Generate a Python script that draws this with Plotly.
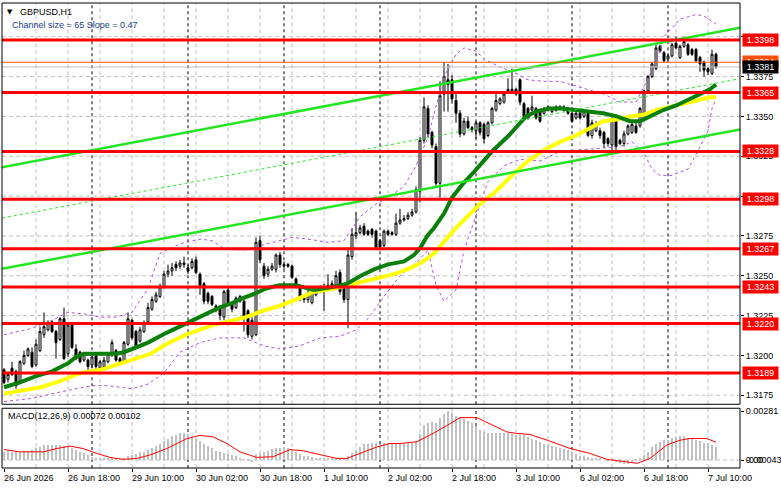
import plotly.graph_objects as go

# ---------------- data ----------------
opens = [
    1.3191, 1.3185, 1.3192, 1.3190, 1.3184, 1.3195, 1.3200, 1.3202, 1.3194, 1.3203,
    1.3213, 1.3216, 1.3221, 1.3215, 1.3210, 1.3223, 1.3201, 1.3219, 1.3204, 1.3202,
    1.3197, 1.3197, 1.3194, 1.3200, 1.3192, 1.3193, 1.3196, 1.3201, 1.3203, 1.3198,
    1.3196, 1.3207, 1.3222, 1.3215, 1.3209, 1.3215, 1.3221, 1.3229, 1.3234, 1.3237,
    1.3243, 1.3251, 1.3253, 1.3257, 1.3256, 1.3257, 1.3255, 1.3255, 1.3260, 1.3251,
    1.3245, 1.3239, 1.3237, 1.3231, 1.3229, 1.3224, 1.3241, 1.3233, 1.3230, 1.3234,
    1.3234, 1.3228, 1.3212, 1.3213, 1.3272, 1.3256, 1.3251, 1.3254, 1.3254, 1.3263,
    1.3256, 1.3257, 1.3256, 1.3248, 1.3243, 1.3236, 1.3235, 1.3233, 1.3238, 1.3242,
    1.3240, 1.3242, 1.3244, 1.3244, 1.3252, 1.3242, 1.3235, 1.3262, 1.3275, 1.3277,
    1.3281, 1.3278, 1.3279, 1.3278, 1.3272, 1.3269, 1.3278, 1.3277, 1.3276, 1.3283,
    1.3285, 1.3286, 1.3288, 1.3290, 1.3303, 1.3335, 1.3355, 1.3340, 1.3331, 1.3308,
    1.3364, 1.3373, 1.3373, 1.3360, 1.3352, 1.3339, 1.3347, 1.3343, 1.3341, 1.3346,
    1.3345, 1.3338, 1.3346, 1.3354, 1.3358, 1.3359, 1.3365, 1.3366, 1.3367, 1.3373,
    1.3358, 1.3355, 1.3354, 1.3355, 1.3354, 1.3352, 1.3356, 1.3353, 1.3354, 1.3356,
    1.3354, 1.3355, 1.3352, 1.3349, 1.3352, 1.3350, 1.3352, 1.3338, 1.3341, 1.3341,
    1.3340, 1.3336, 1.3332, 1.3349, 1.3335, 1.3333, 1.3339, 1.3340, 1.3344, 1.3344,
    1.3348, 1.3366, 1.3375, 1.3380, 1.3394, 1.3390, 1.3386, 1.3388, 1.3396, 1.3387,
    1.3394, 1.3395, 1.3392, 1.3392, 1.3387, 1.3384, 1.3380, 1.3377, 1.3389,
]
highs = [
    1.3192, 1.3189, 1.3196, 1.3191, 1.3197, 1.3203, 1.3205, 1.3205, 1.3210, 1.3218,
    1.3227, 1.3222, 1.3222, 1.3216, 1.3224, 1.3230, 1.3220, 1.3220, 1.3207, 1.3203,
    1.3202, 1.3198, 1.3200, 1.3201, 1.3197, 1.3199, 1.3202, 1.3210, 1.3204, 1.3199,
    1.3209, 1.3227, 1.3223, 1.3216, 1.3218, 1.3222, 1.3233, 1.3237, 1.3240, 1.3245,
    1.3253, 1.3257, 1.3258, 1.3259, 1.3260, 1.3262, 1.3257, 1.3261, 1.3262, 1.3252,
    1.3246, 1.3240, 1.3238, 1.3232, 1.3230, 1.3241, 1.3243, 1.3234, 1.3237, 1.3238,
    1.3235, 1.3229, 1.3224, 1.3274, 1.3275, 1.3258, 1.3256, 1.3258, 1.3264, 1.3265,
    1.3259, 1.3258, 1.3257, 1.3249, 1.3244, 1.3237, 1.3241, 1.3241, 1.3243, 1.3244,
    1.3245, 1.3251, 1.3247, 1.3253, 1.3254, 1.3243, 1.3266, 1.3280, 1.3290, 1.3282,
    1.3283, 1.3279, 1.3280, 1.3279, 1.3273, 1.3279, 1.3279, 1.3278, 1.3289, 1.3292,
    1.3288, 1.3290, 1.3292, 1.3306, 1.3337, 1.3362, 1.3357, 1.3341, 1.3333, 1.3372,
    1.3384, 1.3383, 1.3376, 1.3365, 1.3354, 1.3349, 1.3350, 1.3344, 1.3347, 1.3347,
    1.3346, 1.3347, 1.3356, 1.3365, 1.3362, 1.3365, 1.3374, 1.3380, 1.3368, 1.3374,
    1.3359, 1.3356, 1.3363, 1.3356, 1.3355, 1.3356, 1.3357, 1.3356, 1.3357, 1.3357,
    1.3357, 1.3356, 1.3353, 1.3353, 1.3353, 1.3354, 1.3353, 1.3348, 1.3347, 1.3343,
    1.3341, 1.3337, 1.3350, 1.3350, 1.3336, 1.3341, 1.3345, 1.3346, 1.3346, 1.3356,
    1.3367, 1.3376, 1.3384, 1.3395, 1.3395, 1.3391, 1.3389, 1.3396, 1.3400, 1.3395,
    1.3400, 1.3396, 1.3393, 1.3393, 1.3388, 1.3385, 1.3381, 1.3392, 1.3390,
]
lows = [
    1.3182, 1.3183, 1.3187, 1.3179, 1.3183, 1.3194, 1.3199, 1.3192, 1.3193, 1.3202,
    1.3211, 1.3215, 1.3214, 1.3198, 1.3209, 1.3197, 1.3199, 1.3204, 1.3197, 1.3195,
    1.3196, 1.3189, 1.3192, 1.3189, 1.3190, 1.3192, 1.3195, 1.3199, 1.3196, 1.3194,
    1.3195, 1.3206, 1.3210, 1.3204, 1.3208, 1.3214, 1.3220, 1.3228, 1.3233, 1.3236,
    1.3242, 1.3249, 1.3250, 1.3253, 1.3254, 1.3255, 1.3251, 1.3254, 1.3251, 1.3238,
    1.3232, 1.3232, 1.3231, 1.3227, 1.3222, 1.3222, 1.3231, 1.3227, 1.3229, 1.3233,
    1.3215, 1.3211, 1.3210, 1.3212, 1.3258, 1.3248, 1.3249, 1.3253, 1.3252, 1.3255,
    1.3254, 1.3255, 1.3248, 1.3242, 1.3234, 1.3233, 1.3233, 1.3232, 1.3237, 1.3239,
    1.3228, 1.3241, 1.3243, 1.3243, 1.3238, 1.3233, 1.3217, 1.3260, 1.3273, 1.3276,
    1.3275, 1.3275, 1.3274, 1.3266, 1.3266, 1.3268, 1.3275, 1.3275, 1.3275, 1.3282,
    1.3284, 1.3285, 1.3287, 1.3289, 1.3296, 1.3333, 1.3337, 1.3330, 1.3306, 1.3299,
    1.3353, 1.3353, 1.3358, 1.3346, 1.3337, 1.3338, 1.3342, 1.3340, 1.3336, 1.3338,
    1.3333, 1.3337, 1.3345, 1.3353, 1.3357, 1.3358, 1.3364, 1.3365, 1.3363, 1.3357,
    1.3349, 1.3348, 1.3353, 1.3348, 1.3346, 1.3351, 1.3353, 1.3352, 1.3353, 1.3354,
    1.3353, 1.3351, 1.3346, 1.3348, 1.3348, 1.3349, 1.3337, 1.3336, 1.3340, 1.3336,
    1.3330, 1.3331, 1.3327, 1.3329, 1.3332, 1.3331, 1.3338, 1.3339, 1.3339, 1.3343,
    1.3347, 1.3365, 1.3374, 1.3379, 1.3390, 1.3384, 1.3385, 1.3387, 1.3392, 1.3386,
    1.3393, 1.3388, 1.3388, 1.3384, 1.3378, 1.3375, 1.3376, 1.3376, 1.3380,
]
closes = [
    1.3183, 1.3188, 1.3188, 1.3181, 1.3196, 1.3200, 1.3204, 1.3193, 1.3207, 1.3215,
    1.3218, 1.3220, 1.3215, 1.3208, 1.3223, 1.3198, 1.3219, 1.3205, 1.3198, 1.3196,
    1.3201, 1.3193, 1.3199, 1.3193, 1.3196, 1.3197, 1.3201, 1.3208, 1.3197, 1.3195,
    1.3208, 1.3223, 1.3211, 1.3205, 1.3216, 1.3220, 1.3230, 1.3235, 1.3238, 1.3243,
    1.3251, 1.3253, 1.3255, 1.3255, 1.3258, 1.3258, 1.3253, 1.3259, 1.3252, 1.3244,
    1.3234, 1.3234, 1.3232, 1.3229, 1.3225, 1.3240, 1.3233, 1.3229, 1.3236, 1.3237,
    1.3225, 1.3213, 1.3222, 1.3271, 1.3260, 1.3250, 1.3254, 1.3256, 1.3263, 1.3257,
    1.3257, 1.3256, 1.3249, 1.3243, 1.3236, 1.3235, 1.3239, 1.3240, 1.3241, 1.3240,
    1.3243, 1.3244, 1.3245, 1.3250, 1.3240, 1.3235, 1.3263, 1.3276, 1.3277, 1.3280,
    1.3276, 1.3276, 1.3276, 1.3268, 1.3268, 1.3278, 1.3276, 1.3276, 1.3283, 1.3285,
    1.3286, 1.3288, 1.3290, 1.3304, 1.3335, 1.3356, 1.3339, 1.3332, 1.3308, 1.3363,
    1.3375, 1.3370, 1.3361, 1.3352, 1.3339, 1.3347, 1.3343, 1.3342, 1.3346, 1.3340,
    1.3336, 1.3346, 1.3355, 1.3360, 1.3361, 1.3364, 1.3367, 1.3367, 1.3364, 1.3359,
    1.3350, 1.3349, 1.3356, 1.3349, 1.3347, 1.3355, 1.3354, 1.3355, 1.3356, 1.3355,
    1.3356, 1.3352, 1.3347, 1.3352, 1.3349, 1.3353, 1.3338, 1.3346, 1.3345, 1.3338,
    1.3333, 1.3333, 1.3348, 1.3331, 1.3333, 1.3339, 1.3344, 1.3345, 1.3340, 1.3355,
    1.3366, 1.3375, 1.3383, 1.3393, 1.3391, 1.3385, 1.3388, 1.3395, 1.3393, 1.3394,
    1.3397, 1.3389, 1.3389, 1.3385, 1.3383, 1.3379, 1.3378, 1.3389, 1.3381,
]
bar_index = list(range(len(closes)))

# moving averages (bar index, price)
ma_green_x = [0, 4, 8, 12, 16, 18, 20, 24, 28, 30, 32, 36, 40.5, 45.5, 50.5, 53.8, 57.2, 59.7,
              63, 65.5, 68.8, 73, 77.5, 82.5, 85.8, 89.2, 92.5, 95.8, 100, 102.5, 104.2, 105.8,
              107.5, 110, 112, 114.5, 117.8, 122, 126.2, 130.5, 133, 136.2, 139.5, 142.8, 146.5,
              149.8, 153.2, 156.5, 159, 161.5, 164.8, 168.2, 171.5, 174, 176.5, 178]
ma_green_y = [1.3180, 1.3183, 1.3187, 1.3190, 1.3195, 1.3199, 1.3201, 1.3201, 1.3201, 1.3202,
              1.3204, 1.3208, 1.3214, 1.3220, 1.3226, 1.3230, 1.3233, 1.3236, 1.3239, 1.3242,
              1.3244, 1.3244, 1.3241, 1.3243, 1.3245, 1.3250, 1.3254, 1.3257, 1.3259, 1.3263,
              1.3268, 1.3275, 1.3280, 1.3289, 1.3299, 1.3307, 1.3316, 1.3328, 1.3338, 1.3350,
              1.3353, 1.3355, 1.3355, 1.3354, 1.3353, 1.3352, 1.3350, 1.3347, 1.3347, 1.3350,
              1.3354, 1.3357, 1.3361, 1.3364, 1.3367, 1.3370]
ma_yellow_x = [0, 4.2, 9.2, 14.2, 19.2, 24.2, 29.2, 34.2, 36.7, 40.5, 45.5, 52.2, 57.2, 60.5,
               64.7, 68.8, 73, 77.5, 82.5, 85.8, 89.2, 94.2, 97.5, 100.8, 104.2, 107.5, 110,
               113, 119, 123, 127, 131, 135, 139, 143, 147, 149.8, 153.2, 156.5, 159.8, 163.2,
               166.5, 169.8, 173.2, 176.5, 178]
ma_yellow_y = [1.3176, 1.3178, 1.3180, 1.3184, 1.3189, 1.3191, 1.3195, 1.3199, 1.3201, 1.3207,
               1.3213, 1.3219, 1.3222, 1.3224, 1.3228, 1.3231, 1.3235, 1.3240, 1.3242, 1.3244,
               1.3246, 1.3249, 1.3251, 1.3254, 1.3258, 1.3264, 1.3271, 1.3280, 1.3295, 1.3303,
               1.3313, 1.3322, 1.3329, 1.3334, 1.3338, 1.3343, 1.3347, 1.3348, 1.3350, 1.3351,
               1.3354, 1.3356, 1.3358, 1.3360, 1.3362, 1.3362]

# envelope bands (purple dashed)
band_up_x = [0, 7, 12, 16, 20, 24, 28, 32, 36, 39, 44, 49, 52, 55, 60, 64, 69, 72, 76, 81, 85,
             89, 93, 96, 100, 103, 106, 108, 110, 113, 115, 118, 120, 124, 128, 131, 135, 139,
             143, 146, 150, 154, 158, 160, 163, 165, 169, 173, 175, 178]
band_up_y = [1.3213, 1.3217, 1.3222, 1.3227, 1.3226, 1.3224, 1.3224, 1.3227, 1.3242, 1.3264,
             1.3270, 1.3273, 1.3272, 1.3267, 1.3266, 1.3269, 1.3272, 1.3274, 1.3273, 1.3271,
             1.3272, 1.3287, 1.3295, 1.3299, 1.3306, 1.3319, 1.3337, 1.3356, 1.3375, 1.3389,
             1.3393, 1.3391, 1.3386, 1.3381, 1.3377, 1.3373, 1.3372, 1.3372, 1.3369, 1.3367,
             1.3364, 1.3359, 1.3359, 1.3369, 1.3384, 1.3400, 1.3411, 1.3414, 1.3413, 1.3408]
band_lo_x = [0, 7, 14, 22, 26, 32, 36, 40, 44, 49, 54, 60, 65, 69, 74, 79, 84, 88, 91, 95, 99,
             103, 106, 108, 110, 113, 115, 118, 121, 125, 129, 134, 139, 144, 149, 154, 157,
             160, 162, 164, 167, 171, 173, 176, 177, 178]
band_lo_y = [1.3171, 1.3173, 1.3177, 1.3181, 1.3181, 1.3179, 1.3182, 1.3189, 1.3202, 1.3208,
             1.3211, 1.3211, 1.3206, 1.3204, 1.3206, 1.3211, 1.3212, 1.3216, 1.3223, 1.3237,
             1.3250, 1.3258, 1.3266, 1.3244, 1.3234, 1.3241, 1.3266, 1.3287, 1.3309, 1.3319,
             1.3323, 1.3322, 1.3328, 1.3329, 1.3330, 1.3331, 1.3334, 1.3327, 1.3317, 1.3313,
             1.3313, 1.3317, 1.3326, 1.3341, 1.3355, 1.3361]

# regression channel (start / end of the chart)
channel_x = [-0.5, 184]
channel_upper = [1.33181, 1.34056]
channel_mid = [1.32862, 1.33737]
channel_lower = [1.32543, 1.33418]

levels = [1.3398, 1.3365, 1.3328, 1.3298, 1.3267, 1.3243, 1.3220, 1.3189]
bid_price = 1.3381
ask_price = 1.3384

macd_hist = [
    0.00047, 0.00048, 0.00047, 0.00048, 0.00047, 0.00049, 0.00052, 0.00055, 0.00065, 0.00075,
    0.00084, 0.00086, 0.00086, 0.00084, 0.00086, 0.00080, 0.00075, 0.00065, 0.00056, 0.00047,
    0.00037, 0.00028, 0.00014, 0.00009, 0.00006, 0.00005, 0.00005, 0.00006, 0.00005, 0.00004,
    0.00007, 0.00019, 0.00028, 0.00033, 0.00042, 0.00047, 0.00056, 0.00065, 0.00079, 0.00093,
    0.00107, 0.00121, 0.00135, 0.00144, 0.00154, 0.00156, 0.00149, 0.00135, 0.00121, 0.00107,
    0.00093, 0.00079, 0.00065, 0.00051, 0.00042, 0.00037, 0.00033, 0.00028, 0.00019, 0.00009,
    0.00002, -0.00005, -0.00014, 0.00033, 0.00037, 0.00047, 0.00051, 0.00060, 0.00065, 0.00070,
    0.00074, 0.00070, 0.00056, 0.00042, 0.00033, 0.00023, 0.00019, 0.00014, 0.00009, 0.00007,
    0.00007, 0.00007, 0.00009, 0.00011, 0.00009, 0.00007, 0.00023, 0.00037, 0.00056, 0.00074,
    0.00088, 0.00093, 0.00098, 0.00098, 0.00093, 0.00098, 0.00098, 0.00098, 0.00098, 0.00099,
    0.00099, 0.00099, 0.00100, 0.00107, 0.00149, 0.00200, 0.00209, 0.00219, 0.00214, 0.00242,
    0.00265, 0.00281, 0.00270, 0.00251, 0.00242, 0.00233, 0.00223, 0.00209, 0.00195, 0.00172,
    0.00158, 0.00153, 0.00153, 0.00153, 0.00153, 0.00153, 0.00153, 0.00149, 0.00144, 0.00144,
    0.00140, 0.00130, 0.00121, 0.00112, 0.00102, 0.00093, 0.00084, 0.00079, 0.00074, 0.00065,
    0.00060, 0.00056, 0.00042, 0.00033, 0.00023, 0.00019, 0.00014, 0.00009, 0.00007, 0.00005,
    0.00000, -0.00005, -0.00009, -0.00014, -0.00019, -0.00023, -0.00023, -0.00019, -0.00009, 0.00005,
    0.00028, 0.00047, 0.00074, 0.00093, 0.00102, 0.00112, 0.00116, 0.00126, 0.00130, 0.00135,
    0.00135, 0.00126, 0.00121, 0.00116, 0.00107, 0.00098, 0.00098, 0.00084, 0.00072,
]
signal_x = [0, 4, 9.8, 13.2, 16.5, 19.8, 23.2, 26.5, 29.8, 33.2, 36.5, 40.7, 45.7, 49, 52.3,
            55.7, 59, 63.2, 67.3, 71.5, 74.8, 79, 83.2, 85.7, 89, 93.2, 96.5, 99, 103.2, 107.3,
            111.5, 114, 118.2, 121.5, 125.7, 128.2, 131.5, 135.8, 141.5, 146.5, 150.7, 155,
            158.3, 161.5, 165.7, 169, 171.5, 175.7, 178]
signal_y = [0.00060, 0.00047, 0.00047, 0.00066, 0.00080, 0.00066, 0.00038, 0.00015, 0.00004,
            0.00009, 0.00029, 0.00066, 0.00123, 0.00142, 0.00133, 0.00095, 0.00047, 0.00015,
            0.00019, 0.00060, 0.00053, 0.00029, 0.00009, 0.00009, 0.00038, 0.00075, 0.00095,
            0.00095, 0.00105, 0.00153, 0.00209, 0.00244, 0.00244, 0.00209, 0.00162, 0.00153,
            0.00147, 0.00114, 0.00067, 0.00038, 0.00004, -0.00009, -0.00019, 0.00009, 0.00086,
            0.00114, 0.00124, 0.00124, 0.00102]

date_tick_index = [0, 16, 32, 48, 64, 80, 96, 112, 128, 144, 160, 176]
date_tick_text = ["26 Jun 2026", "26 Jun 18:00", "29 Jun 10:00", "30 Jun 02:00",
                  "30 Jun 18:00", "1 Jul 10:00", "2 Jul 02:00", "2 Jul 18:00",
                  "3 Jul 10:00", "6 Jul 02:00", "6 Jul 18:00", "7 Jul 10:00"]
day_separators = [22, 46, 70, 94, 118, 142, 166]
price_ticks = [1.3175, 1.3200, 1.3225, 1.3250, 1.3275, 1.3300, 1.3325, 1.3350, 1.3375, 1.3400]
# 1.3300 and 1.3400 sit fully under the level boxes in the terminal, so no visible text
price_tick_text = ["1.3175", "1.3200", "1.3225", "1.3250", "1.3275", "", "1.3325",
                   "1.3350", "1.3375", ""]
macd_ticks = [0.00281, 0.0]
macd_tick_text = ["0.00281", "0.00"]
macd_min_label = "-0.00043"

# ---------------- layout constants ----------------
W, H = 781, 489
L, R, T, B = 2, 41, 1, 21
PH = H - T - B
FONT = "Liberation Sans, Arial, sans-serif"
FS = 9
X_RANGE = [-0.5, 184]
Y_RANGE = [1.316931, 1.342119]
Y2_RANGE = [-0.00046, 0.00298]
MAIN_DOM = [(H - B - 404) / PH, 1.0]
MACD_DOM = [0.0, (H - B - 408) / PH]
GRID = "#C0C0C0"


def paper(px, py):
    return (px - L) / (W - L - R), (H - B - py) / PH


fig = go.Figure()

# bands
for bx, by in ((band_up_x, band_up_y), (band_lo_x, band_lo_y)):
    fig.add_trace(go.Scatter(x=bx, y=by, mode="lines", xaxis="x", yaxis="y",
                             line=dict(color="#B050E0", width=1, dash="3px,3px"),
                             hoverinfo="skip"))

# candles
fig.add_trace(go.Candlestick(
    x=bar_index, open=opens, high=highs, low=lows, close=closes,
    xaxis="x", yaxis="y", whiskerwidth=0,
    increasing=dict(line=dict(color="black", width=1), fillcolor="white"),
    decreasing=dict(line=dict(color="black", width=1), fillcolor="black"),
    hoverinfo="skip"))

# moving averages
fig.add_trace(go.Scatter(x=ma_yellow_x, y=ma_yellow_y, mode="lines", xaxis="x", yaxis="y",
                         line=dict(color="#FFFF00", width=4), hoverinfo="skip"))
fig.add_trace(go.Scatter(x=ma_green_x, y=ma_green_y, mode="lines", xaxis="x", yaxis="y",
                         line=dict(color="#0A800A", width=4), hoverinfo="skip"))

# channel
for cy, w, d in ((channel_upper, 2.5, "solid"), (channel_lower, 2.5, "solid"),
                 (channel_mid, 1, "3px,3px")):
    fig.add_trace(go.Scatter(x=channel_x, y=cy, mode="lines", xaxis="x", yaxis="y",
                             line=dict(color="#22E622", width=w, dash=d), hoverinfo="skip"))

# MACD
fig.add_trace(go.Bar(x=bar_index, y=macd_hist, xaxis="x2", yaxis="y2", width=0.65,
                     marker=dict(color="#C0C0C0", line=dict(width=0)), hoverinfo="skip"))
fig.add_trace(go.Scatter(x=signal_x, y=signal_y, mode="lines", xaxis="x2", yaxis="y2",
                         line=dict(color="#FF0000", width=1), hoverinfo="skip"))

shapes = []
# vertical grid
for gx in range(8, 184, 8):
    for yr in ("y domain", "y2 domain"):
        shapes.append(dict(type="line", xref="x", yref=yr, x0=gx, x1=gx, y0=0, y1=1,
                           line=dict(color=GRID, width=1, dash="4px,3px"), layer="below"))
# horizontal grid
for p in price_ticks:
    shapes.append(dict(type="line", xref="x domain", yref="y", x0=0, x1=1, y0=p, y1=p,
                       line=dict(color=GRID, width=1, dash="4px,3px"), layer="below"))
shapes.append(dict(type="line", xref="x2 domain", yref="y2", x0=0, x1=1, y0=0, y1=0,
                   line=dict(color=GRID, width=1, dash="4px,3px"), layer="below"))
# day separators
for d in day_separators:
    for xr, yr in (("x", "y domain"), ("x2", "y2 domain")):
        shapes.append(dict(type="line", xref=xr, yref=yr, x0=d, x1=d, y0=0, y1=1,
                           line=dict(color="black", width=1, dash="3px,3px"), layer="below"))
# bid / ask
shapes.append(dict(type="line", xref="x domain", yref="y", x0=0, x1=1, y0=bid_price,
                   y1=bid_price, line=dict(color="#C0C0C0", width=1)))
shapes.append(dict(type="line", xref="x domain", yref="y", x0=0, x1=1, y0=ask_price,
                   y1=ask_price, line=dict(color="#FF5010", width=1)))
# levels
for lv in levels:
    shapes.append(dict(type="line", xref="x domain", yref="y", x0=0, x1=1, y0=lv, y1=lv,
                       line=dict(color="#FF0000", width=3)))
# frames
for xr, yr in (("x domain", "y domain"), ("x2 domain", "y2 domain")):
    shapes.append(dict(type="rect", xref=xr, yref=yr, x0=0, x1=1, y0=0, y1=1,
                       line=dict(color="black", width=1), fillcolor="rgba(0,0,0,0)"))

ann = []
# right-side boxes
ann.append(dict(x=1, xref="paper", xanchor="left", xshift=2, y=ask_price, yref="y",
                text=f"{ask_price:.4f}", showarrow=False, bgcolor="#FF5010",
                font=dict(family=FONT, size=FS, color="white"), width=33, height=10,
                borderpad=1))
ann.append(dict(x=1, xref="paper", xanchor="left", xshift=2, y=bid_price, yref="y",
                text=f"{bid_price:.4f}", showarrow=False, bgcolor="black",
                font=dict(family=FONT, size=FS, color="white"), width=33, height=10,
                borderpad=1))
for lv in levels:
    ann.append(dict(x=1, xref="paper", xanchor="left", xshift=2, y=lv, yref="y",
                    text=f"{lv:.4f}", showarrow=False, bgcolor="#FF0000",
                    font=dict(family=FONT, size=FS, color="white"), width=33, height=10,
                    borderpad=1))
# MACD min label (overlaps the 0.00 label as in the terminal)
ann.append(dict(x=1, xref="paper", xanchor="left", xshift=4, y=0, yref="y2",
                text=macd_min_label, showarrow=False,
                font=dict(family=FONT, size=FS, color="black")))
# date labels
for xi, txt in zip(date_tick_index, date_tick_text):
    ann.append(dict(x=xi, xref="x2", xanchor="left", xshift=-2, y=0, yref="paper",
                    yanchor="top", yshift=-3, text=txt, showarrow=False,
                    font=dict(family=FONT, size=FS, color="black")))
# header texts
px, py = paper(5, 10)
ann.append(dict(x=px, y=py, xref="paper", yref="paper", xanchor="left", yanchor="middle",
                text="▼", showarrow=False, font=dict(family="DejaVu Sans", size=7, color="black")))
px, py = paper(18, 10)
ann.append(dict(x=px, y=py, xref="paper", yref="paper", xanchor="left", yanchor="middle",
                text="GBPUSD,H1", showarrow=False, font=dict(family=FONT, size=FS, color="black")))
px, py = paper(10, 23)
ann.append(dict(x=px, y=py, xref="paper", yref="paper", xanchor="left", yanchor="middle",
                text="Channel size = 65 Slope = 0.47", showarrow=False,
                font=dict(family=FONT, size=FS, color="#203C8C")))
px, py = paper(6, 416)
ann.append(dict(x=px, y=py, xref="paper", yref="paper", xanchor="left", yanchor="middle",
                text="MACD(12,26,9) 0.00072 0.00102", showarrow=False,
                font=dict(family=FONT, size=FS, color="black")))

fig.update_layout(
    width=W, height=H, margin=dict(l=L, r=R, t=T, b=B),
    paper_bgcolor="white", plot_bgcolor="white", showlegend=False,
    bargap=0,
    xaxis=dict(domain=[0, 1], range=X_RANGE, anchor="y", showticklabels=False, ticks="",
               showgrid=False, zeroline=False, showline=False,
               rangeslider=dict(visible=False), fixedrange=True),
    xaxis2=dict(domain=[0, 1], range=X_RANGE, anchor="y2", matches="x",
                tickmode="array", tickvals=date_tick_index, ticktext=[""] * len(date_tick_index),
                ticks="outside", ticklen=3, tickcolor="black", showgrid=False,
                zeroline=False, showline=False, fixedrange=True),
    yaxis=dict(domain=MAIN_DOM, range=Y_RANGE, anchor="x", side="right",
               tickmode="array", tickvals=price_ticks, ticktext=price_tick_text,
               ticks="outside", ticklen=3, tickcolor="black",
               tickfont=dict(family=FONT, size=FS, color="black"),
               showgrid=False, zeroline=False, showline=False, fixedrange=True),
    yaxis2=dict(domain=MACD_DOM, range=Y2_RANGE, anchor="x2", side="right",
                tickmode="array", tickvals=macd_ticks, ticktext=macd_tick_text,
                ticks="outside", ticklen=3, tickcolor="black",
                tickfont=dict(family=FONT, size=FS, color="black"),
                showgrid=False, zeroline=False, showline=False, fixedrange=True),
    shapes=shapes, annotations=ann,
)

fig.write_html("out.html", config={"displayModeBar": False})
